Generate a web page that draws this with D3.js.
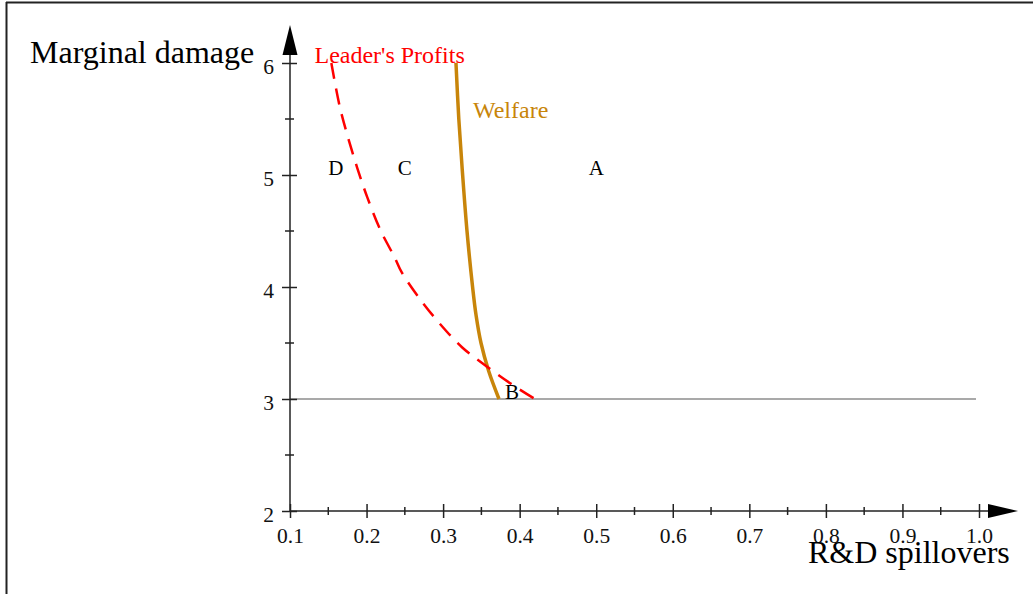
<!DOCTYPE html>
<html>
<head>
<meta charset="utf-8">
<script src="https://cdn.jsdelivr.net/npm/d3@7"></script>
<style>
  body { margin: 0; background: #fff; }
  svg { display: block; font-family: "Liberation Serif", "Times New Roman", serif; }
</style>
</head>
<body>
<svg width="1033" height="594"></svg>
<script>
(function () {

  // tick values
  const xTicks = [0.1, 0.2, 0.3, 0.4, 0.5, 0.6, 0.7, 0.8, 0.9, 1.0];
  const xMinor = [0.15, 0.25, 0.35, 0.45, 0.55, 0.65, 0.75, 0.85, 0.95];
  const yTicks = [2, 3, 4, 5, 6];
  const yMinor = [2.5, 3.5, 4.5, 5.5];

  // Leader's Profits (dashed red)
  const profitsX = [0.154, 0.165, 0.176, 0.188, 0.201, 0.218, 0.237, 0.246, 0.270, 0.296, 0.325, 0.357, 0.391, 0.420];
  const profitsY = [6.0, 5.61, 5.33, 5.06, 4.80, 4.51, 4.26, 4.13, 3.89, 3.67, 3.46, 3.29, 3.125, 3.0];

  // Welfare (solid gold)
  const welfareX = [0.3168, 0.3205, 0.3255, 0.3312, 0.3385, 0.3430, 0.3495, 0.3595, 0.3730];
  const welfareY = [6.0, 5.5, 5.0, 4.5, 4.0, 3.75, 3.5, 3.25, 3.0];

  // threshold line
  const baseY = 3;
  const baseX = [0.1, 1.0];

  // region letters
  const regionText = ["D", "C", "A", "B"];
  const regionX = [0.16, 0.25, 0.5, 0.39];
  const regionY = [5, 5, 5, 3];

  const svg = d3.select("svg");

  const x = d3.scaleLinear().domain([0.1, 1.0]).range([290, 979]);
  const y = d3.scaleLinear().domain([2, 6]).range([511, 63]);

  // frame
  svg.append("line").attr("x1", 6.5).attr("x2", 6.5).attr("y1", 2).attr("y2", 594)
    .attr("stroke", "#222").attr("stroke-width", 2);
  svg.append("line").attr("x1", 6).attr("x2", 1033).attr("y1", 2.5).attr("y2", 2.5)
    .attr("stroke", "#222").attr("stroke-width", 2);

  // threshold line
  svg.append("line")
    .attr("x1", x(baseX[0])).attr("x2", x(baseX[1]) - 3)
    .attr("y1", y(baseY)).attr("y2", y(baseY))
    .attr("stroke", "#8c8c8c").attr("stroke-width", 1.5);

  // x axis
  const xAxis = svg.append("g")
    .attr("transform", `translate(0,${y(2)})`)
    .call(d3.axisBottom(x).tickValues(xTicks).tickFormat(d3.format(".1f")).tickSizeOuter(0));
  xAxis.select(".domain").remove();
  xAxis.selectAll(".tick line").attr("y1", -7).attr("y2", 7).attr("stroke", "#222").attr("stroke-width", 1.5);
  xAxis.selectAll(".tick text")
    .attr("y", 32).attr("dy", null)
    .attr("font-size", 21.5).attr("font-family", "Liberation Serif").attr("fill", "#111");
  xAxis.append("line").attr("x1", x(0.1)).attr("x2", 990).attr("y1", 0).attr("y2", 0)
    .attr("stroke", "#222").attr("stroke-width", 1.5);
  xAxis.selectAll(".minor").data(xMinor).join("line")
    .attr("x1", d => x(d)).attr("x2", d => x(d)).attr("y1", -4).attr("y2", 4)
    .attr("stroke", "#222").attr("stroke-width", 1.5);
  xAxis.append("path").attr("d", "M988,-7L1018,0L988,7Z").attr("fill", "#000");

  // y axis
  const yAxis = svg.append("g")
    .attr("transform", `translate(${x(0.1)},0)`)
    .call(d3.axisLeft(y).tickValues(yTicks).tickFormat(d3.format("d")).tickSizeOuter(0));
  yAxis.select(".domain").remove();
  yAxis.selectAll(".tick line").attr("x1", -8).attr("x2", 7).attr("stroke", "#222").attr("stroke-width", 1.5);
  yAxis.selectAll(".tick text")
    .attr("x", -16).attr("dy", 10)
    .attr("font-size", 21.5).attr("font-family", "Liberation Serif").attr("fill", "#111");
  yAxis.append("line").attr("x1", 0).attr("x2", 0).attr("y1", y(2)).attr("y2", 52)
    .attr("stroke", "#222").attr("stroke-width", 1.5);
  yAxis.selectAll(".minor").data(yMinor).join("line")
    .attr("x1", -5).attr("x2", 4).attr("y1", d => y(d)).attr("y2", d => y(d))
    .attr("stroke", "#222").attr("stroke-width", 1.5);
  yAxis.append("path").attr("d", "M-7.5,55L0,25L7.5,55Z").attr("fill", "#000");

  // axis titles
  svg.append("text").attr("x", 30).attr("y", 63)
    .attr("font-size", 32).attr("fill", "#000").text("Marginal damage");
  svg.append("text").attr("x", 808).attr("y", 563)
    .attr("font-size", 32).attr("fill", "#000").text("R&D spillovers");

  const line = d3.line()
    .x(d => x(d[0]))
    .y(d => y(d[1]))
    .curve(d3.curveCatmullRom);

  // welfare
  svg.append("path")
    .datum(welfareX.map((v, i) => [v, welfareY[i]]))
    .attr("d", line)
    .attr("fill", "none")
    .attr("stroke", "#c8850a")
    .attr("stroke-width", 3.5);

  // leader's profits
  svg.append("path")
    .datum(profitsX.map((v, i) => [v, profitsY[i]]))
    .attr("d", line)
    .attr("fill", "none")
    .attr("stroke", "#ff0000")
    .attr("stroke-width", 2.5)
    .attr("stroke-dasharray", "16,10");

  // curve labels
  svg.append("text").attr("x", x(0.132)).attr("y", y(6))
    .attr("font-size", 24).attr("fill", "#ff0000").text("Leader's Profits");
  svg.append("text").attr("x", x(0.339)).attr("y", y(5.51))
    .attr("font-size", 24).attr("fill", "#c8850a").text("Welfare");

  // region letters
  svg.selectAll(".region").data(regionText).join("text")
    .attr("x", (d, i) => x(regionX[i]))
    .attr("y", (d, i) => y(regionY[i]))
    .attr("text-anchor", "middle")
    .attr("font-size", 21)
    .attr("fill", "#000")
    .text(d => d);

}());
</script>
</body>
</html>
